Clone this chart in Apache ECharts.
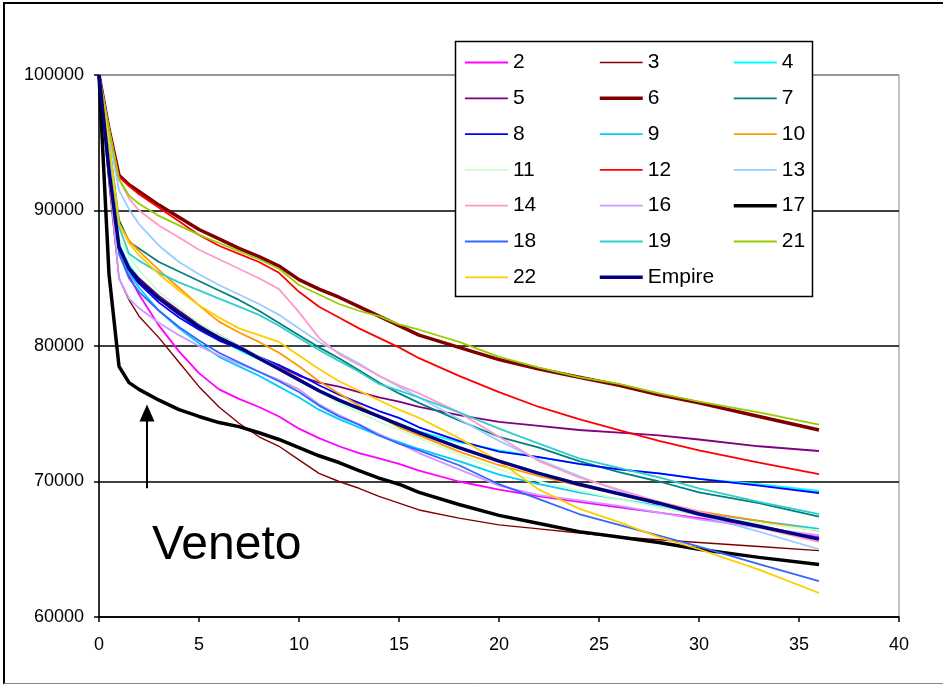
<!DOCTYPE html>
<html>
<head>
<meta charset="utf-8">
<script src="https://cdn.jsdelivr.net/npm/echarts@6/dist/echarts.min.js"></script>
<style>
  html, body { margin: 0; padding: 0; background: #fff; }
  #chart { width: 943px; height: 685px; }
</style>
</head>
<body>
<div id="chart"></div>
<script>
// Time points (x) shared by every series
const xs = [0, 0.5, 1, 1.5, 2, 3, 4, 5, 6, 7, 8, 9, 10, 11, 12, 13, 14, 15, 16, 18, 20, 22, 24, 26, 28, 30, 33, 36];

const s2  = [100000, 94000, 87000, 85200, 83800, 81500, 79600, 78000, 76800, 76100, 75500, 74800, 73900, 73200, 72600, 72100, 71700, 71300, 70800, 70000, 69400, 68900, 68500, 68100, 67700, 67300, 66700, 65900];
const s3  = [100000, 92000, 85000, 83400, 82200, 80600, 78800, 77000, 75500, 74300, 73300, 72600, 71600, 70600, 70000, 69500, 68900, 68400, 67900, 67300, 66800, 66500, 66200, 65900, 65700, 65500, 65200, 64900];
const s4  = [100000, 93800, 87500, 86000, 85000, 83500, 82300, 81300, 80500, 79700, 79000, 78300, 77500, 76700, 76000, 75400, 74800, 74300, 73700, 72900, 72300, 71800, 71300, 70900, 70600, 70200, 69800, 69300];
const s5  = [100000, 93500, 87300, 85800, 85000, 83700, 82600, 81600, 80800, 80000, 79200, 78500, 77800, 77300, 77000, 76600, 76200, 75900, 75500, 74900, 74400, 74100, 73800, 73600, 73400, 73100, 72600, 72250];
const s6  = [100000, 96000, 92600, 91900, 91400, 90400, 89500, 88600, 87900, 87200, 86600, 85900, 84900, 84200, 83600, 82900, 82200, 81500, 80800, 79900, 79000, 78300, 77700, 77100, 76400, 75800, 74800, 73800];
const s7  = [100000, 95000, 89300, 87700, 87200, 86200, 85500, 84800, 84100, 83400, 82600, 81700, 80800, 79900, 79100, 78200, 77300, 76500, 75800, 74500, 73300, 72500, 71500, 70700, 70000, 69200, 68400, 67400];
const s8  = [100000, 93500, 87000, 85500, 84600, 83200, 82100, 81200, 80400, 79800, 79200, 78600, 77900, 77100, 76400, 75800, 75200, 74700, 74000, 73000, 72200, 71800, 71300, 70900, 70600, 70200, 69700, 69150];
const s9  = [100000, 93500, 87000, 85400, 84300, 82600, 81300, 80200, 79200, 78500, 77800, 77000, 76200, 75300, 74600, 74000, 73400, 72900, 72400, 71500, 70500, 69800, 69200, 68700, 68200, 67700, 67100, 66500];
const s10 = [100000, 95000, 89000, 87800, 87000, 85600, 84300, 83000, 81800, 81000, 80300, 79500, 78500, 77400, 76500, 75600, 74800, 74000, 73400, 72200, 71200, 70400, 69700, 69100, 68500, 67800, 67100, 66350];
const s11 = [100000, 94000, 88000, 86600, 85600, 84000, 82800, 81700, 80800, 80000, 79200, 78400, 77500, 76600, 75800, 75100, 74400, 73800, 73200, 72000, 70900, 70000, 69300, 68700, 68100, 67500, 66900, 66400];
const s12 = [100000, 96000, 92500, 91800, 91200, 90200, 89200, 88200, 87400, 86800, 86200, 85400, 84000, 82900, 82100, 81300, 80600, 79900, 79100, 77800, 76600, 75500, 74600, 73800, 73000, 72300, 71400, 70550];
const s13 = [100000, 95500, 91500, 90100, 89000, 87400, 86200, 85300, 84500, 83800, 83100, 82300, 81300, 80300, 79500, 78700, 77800, 77000, 76200, 74600, 73000, 71600, 70400, 69300, 68300, 67500, 66300, 65000];
const s14 = [100000, 96000, 92300, 90900, 90000, 88900, 88000, 87100, 86400, 85700, 85000, 84200, 82500, 80600, 79400, 78600, 77800, 77100, 76500, 75100, 73300, 71500, 70300, 69400, 68500, 67800, 66600, 65550];
const s16 = [100000, 92500, 85000, 83500, 82800, 81700, 80800, 80000, 79300, 78700, 78100, 77500, 76800, 75700, 74900, 74200, 73500, 72800, 72100, 70900, 69700, 69000, 68600, 68200, 67700, 67200, 66600, 66050];
const s17 = [100000, 85300, 78500, 77300, 76800, 76000, 75300, 74800, 74350, 74050, 73600, 73100, 72500, 71900, 71400, 70800, 70250, 69800, 69200, 68300, 67500, 66900, 66300, 65900, 65500, 65000, 64400, 63870];
const s18 = [100000, 93000, 86800, 85000, 84000, 82600, 81400, 80400, 79500, 78800, 78100, 77400, 76600, 75600, 74800, 74200, 73400, 72800, 72300, 71200, 69800, 68700, 67600, 66800, 66000, 65200, 63900, 62650];
const s19 = [100000, 94800, 88800, 86800, 86300, 85400, 84700, 84100, 83500, 82900, 82300, 81500, 80600, 79700, 78900, 78100, 77200, 76700, 76200, 75100, 73900, 72800, 71700, 71000, 70300, 69500, 68500, 67600];
const s21 = [100000, 96000, 92300, 91100, 90500, 89600, 88900, 88200, 87600, 87000, 86400, 85700, 84500, 83800, 83100, 82600, 82200, 81600, 81200, 80300, 79200, 78400, 77700, 77200, 76500, 75900, 75100, 74200];
const s22 = [100000, 95000, 89000, 87600, 86700, 85300, 84100, 83000, 82100, 81300, 80800, 80300, 79300, 78300, 77400, 76700, 76000, 75300, 74700, 73200, 71500, 69400, 68000, 67000, 65900, 65000, 63500, 61770];
const sEmpire = [100000, 93000, 87300, 85700, 84800, 83500, 82400, 81400, 80600, 79900, 79100, 78300, 77500, 76700, 76000, 75400, 74800, 74200, 73600, 72500, 71500, 70600, 69800, 69100, 68400, 67600, 66700, 65750];

// Axis ticks
const xTicks = [0, 5, 10, 15, 20, 25, 30, 35, 40];
const yTicks = [60000, 70000, 80000, 90000, 100000];

// Series definitions, in drawing order (later ones on top)
const seriesDefs = [
  { name: '2',  data: s2,  color: '#ff00ff', width: 1.8 },
  { name: '3',  data: s3,  color: '#800000', width: 1.4 },
  { name: '4',  data: s4,  color: '#00ffff', width: 1.8 },
  { name: '5',  data: s5,  color: '#800080', width: 1.8 },
  { name: '6',  data: s6,  color: '#800000', width: 3.5 },
  { name: '7',  data: s7,  color: '#008080', width: 1.8 },
  { name: '8',  data: s8,  color: '#0000ff', width: 1.8 },
  { name: '9',  data: s9,  color: '#00ccff', width: 1.8 },
  { name: '10', data: s10, color: '#ff9900', width: 1.8 },
  { name: '11', data: s11, color: '#ccffcc', width: 1.8 },
  { name: '12', data: s12, color: '#ff0000', width: 1.8 },
  { name: '13', data: s13, color: '#99ccff', width: 1.8 },
  { name: '14', data: s14, color: '#ff99cc', width: 1.8 },
  { name: '16', data: s16, color: '#cc99ff', width: 1.8 },
  { name: '17', data: s17, color: '#000000', width: 3.5 },
  { name: '18', data: s18, color: '#3366ff', width: 1.8 },
  { name: '19', data: s19, color: '#33cccc', width: 1.8 },
  { name: '21', data: s21, color: '#99cc00', width: 1.8 },
  { name: '22', data: s22, color: '#ffcc00', width: 1.8 },
  { name: 'Empire', data: sEmpire, color: '#000080', width: 3.5 }
];

const legendCols = [
  ['2', '5', '8', '11', '14', '18', '22'],
  ['3', '6', '9', '12', '16', '19', 'Empire'],
  ['4', '7', '10', '13', '17', '21']
];
const legendLeft = [464, 598, 732];

const FONT = 'Liberation Sans, Arial, sans-serif';
const defByName = {};
seriesDefs.forEach(d => { defByName[d.name] = d; });

const series = seriesDefs.map(d => {
  const s = {
    name: d.name,
    type: 'line',
    data: xs.map((x, i) => [x, d.data[i]]),
    symbol: 'none',
    showSymbol: false,
    lineStyle: { color: d.color, width: d.width },
    itemStyle: { color: d.color },
    emphasis: { disabled: true },
    animation: false
  };
  if (d.name === '17') {
    // arrow pointing at the Veneto curve
    s.markLine = {
      silent: true,
      symbol: ['none', 'triangle'],
      symbolSize: [15, 17],
      label: { show: false },
      lineStyle: { color: '#000', width: 2, type: 'solid' },
      data: [[{ coord: [2.4, 69500] }, { coord: [2.4, 75050] }]],
      animation: false
    };
  }
  return s;
});

const chart = echarts.init(document.getElementById('chart'), null, { renderer: 'canvas' });

chart.setOption({
  animation: false,
  backgroundColor: '#fff',
  grid: {
    left: 99, right: 44, top: 75, bottom: 68,
    show: true, borderColor: '#888', borderWidth: 1, backgroundColor: 'transparent'
  },
  xAxis: {
    type: 'value',
    min: xTicks[0], max: xTicks[xTicks.length - 1], interval: 5,
    axisLine: { show: true, onZero: false, lineStyle: { color: '#000', width: 1.5 } },
    axisTick: { show: true, inside: false, length: 5, lineStyle: { color: '#000', width: 1.5 } },
    splitLine: { show: false },
    axisLabel: { color: '#000', fontSize: 18, fontFamily: FONT, margin: 19 }
  },
  yAxis: {
    type: 'value',
    min: yTicks[0], max: yTicks[yTicks.length - 1], interval: 10000,
    axisLine: { show: true, onZero: false, lineStyle: { color: '#000', width: 1.5 } },
    axisTick: { show: true, inside: false, length: 5, lineStyle: { color: '#000', width: 1.5 } },
    splitLine: { show: true, lineStyle: { color: ['#000', '#000', '#000', '#000', '#888'], width: 1.5 } },
    axisLabel: { color: '#000', fontSize: 18, fontFamily: FONT, margin: 15, formatter: v => String(v) }
  },
  legend: legendCols.map((names, c) => ({
    show: true,
    orient: 'vertical',
    left: legendLeft[c],
    top: 52,
    itemWidth: 43,
    itemHeight: 20,
    itemGap: 14.8,
    padding: 0,
    selectedMode: false,
    z: 6,
    data: names.map(n => ({
      name: n,
      itemStyle: { opacity: 0 },
      lineStyle: { color: defByName[n].color, width: defByName[n].width }
    })),
    itemStyle: { opacity: 0 },
    textStyle: { color: '#000', fontSize: 21, fontFamily: FONT, lineHeight: 20, padding: [0, 0, 0, 0] }
  })),
  graphic: [
    // legend frame
    { type: 'rect', z: 5, silent: true,
      shape: { x: 455.5, y: 41.5, width: 357, height: 255 },
      style: { fill: '#fff', stroke: '#000', lineWidth: 1.5 } },
    // annotation text
    { type: 'text', z: 5, silent: true, left: 152, top: 522,
      style: { text: 'Veneto', fill: '#000', font: '48px ' + FONT } },
    // outer frame
    { type: 'line', z: 10, silent: true, shape: { x1: 4, y1: 3, x2: 943, y2: 3 }, style: { stroke: '#000', lineWidth: 2 } },
    { type: 'line', z: 10, silent: true, shape: { x1: 4, y1: 2, x2: 4, y2: 684 }, style: { stroke: '#000', lineWidth: 2 } },
    { type: 'line', z: 10, silent: true, shape: { x1: 4, y1: 683.5, x2: 943, y2: 683.5 }, style: { stroke: '#888', lineWidth: 1 } }
  ],
  series: series
});
</script>
</body>
</html>
